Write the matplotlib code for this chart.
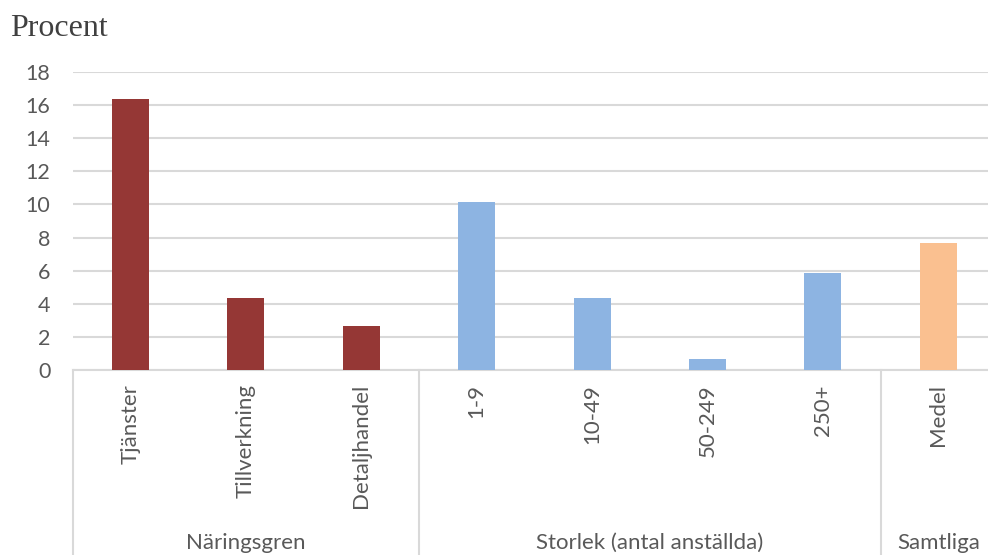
import matplotlib.pyplot as plt
from matplotlib import transforms

# andel i procent per kategori
kategorier = ['Tjänster', 'Tillverkning', 'Detaljhandel',
              '1-9', '10-49', '50-249', '250+', 'Medel']
procent = [16.35, 4.36, 2.67, 10.16, 4.38, 0.66, 5.88, 7.69]
farger = ['#953735'] * 3 + ['#8db4e2'] * 4 + ['#fac090']

# grupper: namn, första och sista kategoriindex
grupper = ['Näringsgren', 'Storlek (antal anställda)', 'Samtliga']
grupp_start = [0, 3, 7]
grupp_slut = [2, 6, 7]

yticks = list(range(0, 19, 2))

plt.rcParams['font.family'] = ['Lato', 'DejaVu Sans']
grid_color = '#d9d9d9'
text_color = '#595959'

fig = plt.figure(figsize=(9.88, 5.55), dpi=100)
ax = fig.add_axes([0.0736, 0.3328, 0.9345, 0.538])

x = list(range(len(kategorier)))
ax.bar(x, procent, width=0.32, color=farger, zorder=3)

ax.set_xlim(-0.5, len(kategorier) - 0.5)
ax.set_ylim(0, 18)
ax.set_yticks(yticks)
ax.yaxis.grid(True, color=grid_color, linewidth=1.5, zorder=0)
ax.tick_params(axis='y', length=0, pad=16, labelsize=15.5, labelcolor=text_color)

ax.set_xticks(x)
ax.set_xticklabels(kategorier, rotation=90)
ax.tick_params(axis='x', length=0, pad=10, labelsize=16, labelcolor=text_color)

for side in ['top', 'right', 'left']:
    ax.spines[side].set_visible(False)
ax.spines['bottom'].set_color(grid_color)
ax.spines['bottom'].set_linewidth(1.5)

# avdelare mellan grupperna och gruppnamn under axeln
trans = transforms.blended_transform_factory(ax.transData, ax.transAxes)
for start in grupp_start:
    ax.plot([start - 0.5, start - 0.5], [0, -0.7], transform=trans,
            color=grid_color, linewidth=1.5, clip_on=False)
ax.plot([7.5, 7.5], [0, -0.7], transform=trans,
        color=grid_color, linewidth=1.5, clip_on=False)

fig_trans = transforms.blended_transform_factory(ax.transData, fig.transFigure)
for namn, s, e in zip(grupper, grupp_start, grupp_slut):
    ax.text((s + e) / 2, 0.022, namn, transform=fig_trans, ha='center',
            va='center', fontsize=16, color=text_color, clip_on=False)

fig.text(0.01, 0.948, 'Procent', family=['Liberation Serif', 'DejaVu Serif'],
         fontsize=23, color='#404040', ha='left', va='center')

fig.savefig('out.png', dpi=100)
